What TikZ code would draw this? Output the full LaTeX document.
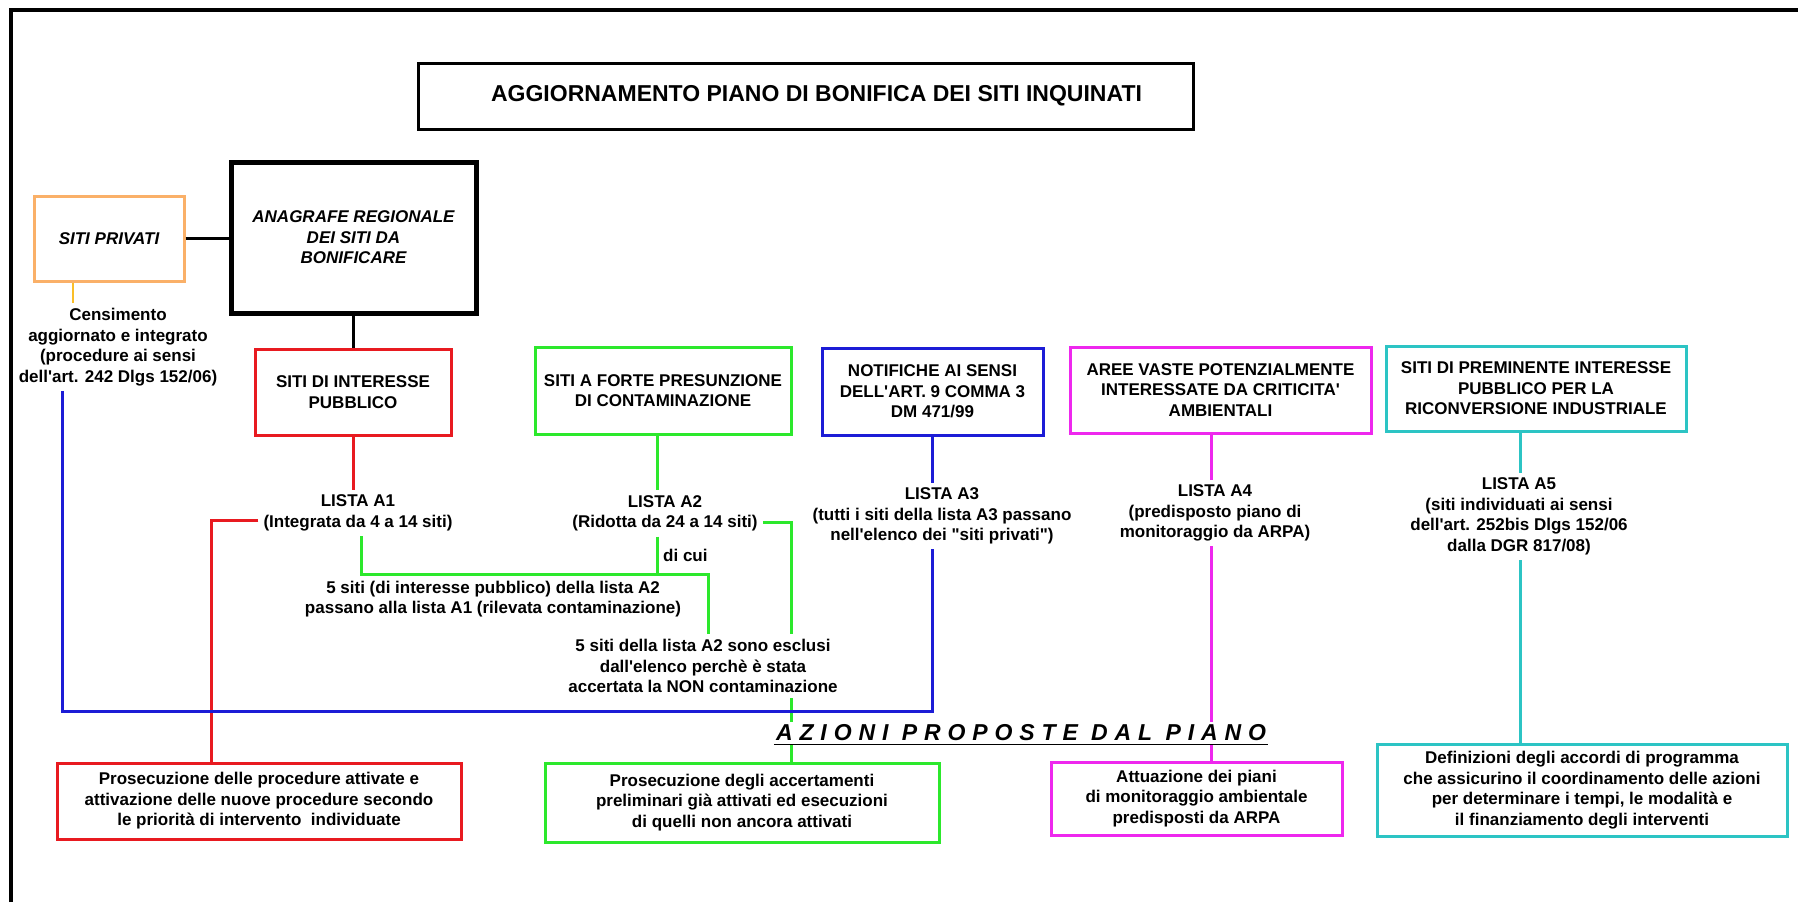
\documentclass[tikz,border=0pt]{standalone}
\usepackage{fontspec}
\setmainfont{Liberation Sans}[Ligatures=TeXOff]
\usetikzlibrary{calc}

\definecolor{cRed}{RGB}{232,26,32}
\definecolor{cGreen}{RGB}{44,232,44}
\definecolor{cBlue}{RGB}{28,28,214}
\definecolor{cMag}{RGB}{238,40,238}
\definecolor{cCyan}{RGB}{44,196,196}
\definecolor{cOrange}{RGB}{250,176,104}
\definecolor{cOrangeL}{RGB}{250,190,40}

\begin{document}
\begin{tikzpicture}[x=1pt,y=-1pt,
  every node/.style={font=\bfseries\fontsize{17}{20.5}\selectfont},
  box/.style={draw,line width=3pt,inner sep=0pt,align=center},
  itbox/.style={box,font=\bfseries\itshape\fontsize{17}{20.5}\selectfont},
  lbl/.style={align=center,inner sep=5pt},
  wire/.style={line width=3pt},
]
\useasboundingbox (0,0) rectangle (1798,902);

% page frame (top and left edges)
\draw[line width=4pt] (11,902) -- (11,10) -- (1798,10);

% title (text set slightly right of the box centre)
\node[box,minimum width=775pt,minimum height=66pt,
      font=\bfseries\fontsize{23}{26}\selectfont] (title) at (805.5,96)
      {\hspace*{22pt}AGGIORNAMENTO PIANO DI BONIFICA DEI SITI INQUINATI};

% upper row
\node[itbox,draw=cOrange,minimum width=150pt,minimum height=85pt] (sp) at (109,238.5) {SITI PRIVATI};
\node[itbox,line width=5pt,minimum width=245pt,minimum height=151pt] (ana) at (353.5,237.5)
      {ANAGRAFE REGIONALE\\DEI SITI DA\\BONIFICARE};
\node[box,draw=cRed,minimum width=196pt,minimum height=86pt] (sip) at (353,392)
      {SITI DI INTERESSE\\PUBBLICO};
\node[box,draw=cGreen,minimum width=256pt,minimum height=87pt] (sfp) at (663,390.5)
      {SITI A FORTE PRESUNZIONE\\DI CONTAMINAZIONE};
\node[box,draw=cBlue,minimum width=221pt,minimum height=87pt] (not) at (932.5,391.5)
      {NOTIFICHE AI SENSI\\DELL'ART. 9 COMMA 3\\DM 471/99};
\node[box,draw=cMag,minimum width=301pt,minimum height=86pt] (aree) at (1220.5,390)
      {AREE VASTE POTENZIALMENTE\\INTERESSATE DA CRITICITA'\\AMBIENTALI};
\node[box,draw=cCyan,minimum width=300pt,minimum height=85pt] (prem) at (1536,388.5)
      {SITI DI PREMINENTE INTERESSE\\PUBBLICO PER LA\\RICONVERSIONE INDUSTRIALE};

% lists
\node[lbl] (cens) at (118,347) {Censimento\\aggiornato e integrato\\(procedure ai sensi\\dell'art. 242 Dlgs 152/06)};
\node[lbl] (la1) at (358,513) {LISTA A1\\(Integrata da 4 a 14 siti)};
\node[lbl] (la2) at (665,513.5) {LISTA A2\\(Ridotta da 24 a 14 siti)};
\node[lbl,anchor=west,inner sep=2pt] (dicui) at (661,555) {di cui};
\node[lbl] (ps) at (493,599) {5 siti (di interesse pubblico) della lista A2\\passano alla lista A1 (rilevata contaminazione)};
\node[lbl] (esc) at (703,666) {5 siti della lista A2 sono esclusi\\dall'elenco perchè è stata\\accertata la NON contaminazione};
\node[lbl] (la3) at (942,516) {LISTA A3\\(tutti i siti della lista A3 passano\\nell'elenco dei "siti privati")};
\node[lbl] (la4) at (1215,513) {LISTA A4\\(predisposto piano di\\monitoraggio da ARPA)};
\node[lbl] (la5) at (1519,516.5) {LISTA A5\\(siti individuati ai sensi\\dell'art. 252bis Dlgs 152/06\\dalla DGR 817/08)};

% action boxes
\node[box,draw=cRed,minimum width=404pt,minimum height=76pt] (b1) at (259,801)
      {Prosecuzione delle procedure attivate e\\attivazione delle nuove procedure secondo\\le priorità di intervento\ \ individuate};
\node[box,draw=cGreen,minimum width=394pt,minimum height=79pt] (b2) at (742,802.5)
      {Prosecuzione degli accertamenti\\preliminari già attivati ed esecuzioni\\di quelli non ancora attivati};
\node[box,draw=cMag,minimum width=291pt,minimum height=73pt] (b3) at (1196.5,798.5)
      {Attuazione dei piani\\di monitoraggio ambientale\\predisposti da ARPA};
\node[box,draw=cCyan,minimum width=410pt,minimum height=92pt] (b4) at (1582,790)
      {Definizioni degli accordi di programma\\che assicurino il coordinamento delle azioni\\per determinare i tempi, le modalità e\\il finanziamento degli interventi};

% routing points
\coordinate (ox) at (73,290);
\coordinate (bc) at (62,711);
\coordinate (rc) at (211,520);
\coordinate (ga) at (361,574);
\coordinate (gb) at (708,574);
\coordinate (gt) at (657,574);
\coordinate (gr) at (791,522);
\coordinate (mx) at (1211,600);
\coordinate (cx) at (1520,600);

% black links
\draw[wire] (sp.east) -- (sp.east -| ana.west);
\draw[wire] (ana.south) -- (ana.south |- sip.north);

% orange
\draw[line width=2pt,cOrangeL] (sp.south -| ox) -- (ox |- cens.north);

% red
\draw[wire,cRed] (sip.south) -- (sip.south |- la1.north);
\draw[wire,cRed] ([yshift=-7pt]la1.west) -- (rc) -- (rc |- b1.north);

% green
\draw[wire,cGreen] (sfp.south -| gt) -- (gt |- la2.north);
\draw[wire,cGreen] (la1.south -| ga) -- (ga) -- (gb) -- (gb |- esc.north);
\draw[wire,cGreen] (la2.south -| gt) -- (gt);
\draw[wire,cGreen] ([yshift=-8.5pt]la2.east) -- (gr) -- (gr |- esc.north);
\draw[wire,cGreen] (esc.south -| gr) -- (gr |- b2.north);

% blue
\draw[wire,cBlue] (not.south) -- (not.south |- la3.north);
\draw[wire,cBlue] (cens.south -| bc) -- (bc) -| (not.south |- la3.south);

% magenta
\draw[wire,cMag] (aree.south -| mx) -- (mx |- la4.north);
\draw[wire,cMag] (la4.south -| mx) -- (mx |- b3.north);

% cyan
\draw[wire,cCyan] (prem.south -| cx) -- (cx |- la5.north);
\draw[wire,cCyan] (la5.south -| cx) -- (cx |- b4.north);

% heading of the action row
\node[fill=white,inner xsep=2pt,inner ysep=3pt,
      font=\bfseries\itshape\fontsize{23}{27}\selectfont\addfontfeature{LetterSpace=30}]
      (az) at (1021,733) {AZIONI PROPOSTE DAL PIANO};
\draw[line width=1.5pt] (az.south west) -- (az.south east);
\end{tikzpicture}
\end{document}
